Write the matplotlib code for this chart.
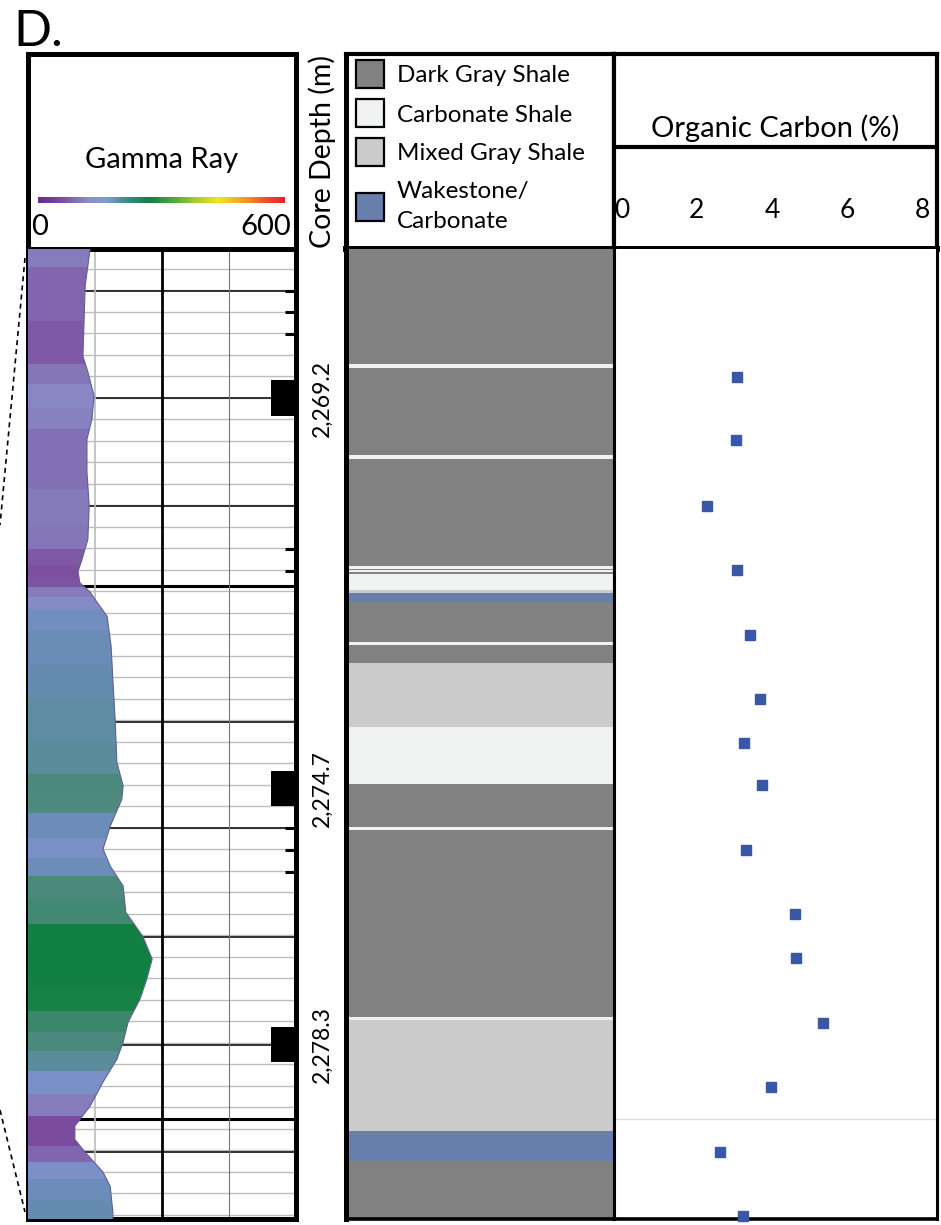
import numpy as np
import matplotlib
matplotlib.use("Agg")
import matplotlib.pyplot as plt
from matplotlib.colors import LinearSegmentedColormap, Normalize
from matplotlib.transforms import blended_transform_factory
from matplotlib.lines import Line2D

plt.rcParams['font.family'] = ['Lato', 'DejaVu Sans']

# ---- data ----
# gamma ray log (depth in m, API)
gr_depth = [2267.10, 2267.62, 2268.61, 2268.83, 2269.17, 2269.50, 2269.78, 2270.24,
            2270.72, 2271.19, 2271.47, 2271.64, 2271.80, 2271.93, 2272.07, 2272.27,
            2272.69, 2273.16, 2273.72, 2274.33, 2274.66, 2274.85, 2275.23, 2275.55,
            2275.79, 2276.07, 2276.44, 2276.78, 2277.10, 2277.38, 2277.66, 2277.99,
            2278.27, 2278.51, 2278.83, 2279.17, 2279.45, 2279.64, 2279.82, 2280.10,
            2280.30, 2280.66, 2280.76]
gr_value = [139, 128, 123, 134, 148, 143, 132, 132,
            137, 134, 121, 112, 116, 139, 154, 177,
            186, 190, 195, 199, 213, 210, 184, 168,
            184, 213, 219, 257, 278, 266, 251, 224,
            213, 199, 168, 139, 105, 105, 128, 168,
            184, 190, 190]

# lithology intervals
lith_top = [2267.10, 2268.72, 2268.78, 2270.00, 2270.06, 2271.56, 2271.60, 2271.62,
            2271.65, 2271.67, 2271.90, 2271.94, 2272.07, 2272.64, 2272.68, 2272.93,
            2273.83, 2274.64, 2275.24, 2275.28, 2277.92, 2277.96, 2279.52, 2279.95]
lith_base = lith_top[1:] + [2280.76]
lith_type = ["dark", "carb", "dark", "carb", "dark", "carb", "dark", "carb",
             "dark", "carb", "mixed", "wake", "dark", "carb", "dark", "mixed",
             "carb", "dark", "carb", "dark", "carb", "mixed", "wake", "dark"]

# organic carbon samples
toc_depth = [2268.90, 2269.79, 2270.72, 2271.62, 2272.54, 2273.44, 2274.06, 2274.65,
             2275.57, 2276.47, 2277.09, 2278.00, 2278.90, 2279.81, 2280.72]
toc_value = [3.07, 3.04, 2.27, 3.07, 3.41, 3.68, 3.25, 3.73,
             3.31, 4.61, 4.64, 5.36, 3.97, 2.61, 3.23]

core_depths = [2269.2, 2274.7, 2278.3]
core_labels = ["2,269.2", "2,274.7", "2,278.3"]
toc_ticks = [0, 2, 4, 6, 8]

legend_keys = ["dark", "carb", "mixed", "wake"]
legend_lines = [["Dark Gray Shale"], ["Carbonate Shale"], ["Mixed Gray Shale"],
                ["Wakestone/", "Carbonate"]]
lith_colors = {"dark": "#818181", "carb": "#F0F1F1", "mixed": "#CBCBCB", "wake": "#687FAD"}

depth_top, depth_base = 2267.10, 2280.76

W, H = 941, 1225
fig = plt.figure(figsize=(W / 100, H / 100), dpi=100)


def add_ax(x0, y0, x1, y1):
    return fig.add_axes([x0 / W, 1 - y1 / H, (x1 - x0) / W, (y1 - y0) / H])


def clean(ax):
    ax.set_xticks([])
    ax.set_yticks([])


# ---------------- gamma ray header ----------------
axh = add_ax(28, 54, 296, 249)
clean(axh)
axh.set_xlim(28, 296)
axh.set_ylim(249, 54)
for s in axh.spines.values():
    s.set_linewidth(3.6)
axh.text(162, 168, "Gamma Ray", ha="center", va="baseline", fontsize=21)
axh.text(31, 235, "0", ha="left", va="baseline", fontsize=21)
axh.text(291, 235, "600", ha="right", va="baseline", fontsize=21)

bar_cmap = LinearSegmentedColormap.from_list("gr_bar", [
    (0.00, "#6A2A8E"), (0.10, "#7A4FA3"), (0.20, "#8F8CC6"), (0.28, "#7F9CCF"),
    (0.35, "#3F8E92"), (0.45, "#128043"), (0.55, "#4FA93A"), (0.64, "#A9CC2E"),
    (0.73, "#F3E41F"), (0.84, "#F39A25"), (0.93, "#EE4C2A"), (1.00, "#E8222B")])
axcb = add_ax(38, 197, 285, 203)
axcb.imshow(np.linspace(0, 1, 256)[None, :], aspect="auto", cmap=bar_cmap)
axcb.axis("off")

# ---------------- gamma ray log ----------------
ax = add_ax(28, 249, 296, 1219)
clean(ax)
ax.set_xlim(0, 600)
ax.set_ylim(depth_base, depth_top)
for s in ax.spines.values():
    s.set_linewidth(3.6)

grid_depths = np.arange(2267.38, depth_base, 0.3028)
ax.hlines(grid_depths, 0, 600, color="#BDBDBD", lw=1.0, zorder=1)
major = [2267.69, 2269.20, 2270.72, 2273.76, 2275.25, 2276.79, 2278.31, 2279.82]
ax.hlines(major, 0, 600, color="#222222", lw=1.3, zorder=1)
ax.hlines([2271.85, 2279.35], 0, 600, color="black", lw=2.2, zorder=1)
ax.vlines(150, depth_top, depth_base, color="#BBBBBB", lw=1.2, zorder=1)
ax.vlines(300, depth_top, depth_base, color="black", lw=2.0, zorder=1)
ax.vlines(450, depth_top, depth_base, color="#777777", lw=0.8, zorder=1)
tick_marks = [2267.69, 2267.99, 2268.30, 2271.33, 2271.64, 2275.25, 2275.57, 2275.87]
ax.hlines(tick_marks, 575, 600, color="black", lw=2.2, zorder=2)

fill_cmap = LinearSegmentedColormap.from_list("gr_fill", [
    (0.00, "#7A4A9E"), (0.10, "#7E58A6"), (0.17, "#8478B8"), (0.25, "#8A88C4"),
    (0.35, "#7C90C8"), (0.45, "#6C8CBA"), (0.52, "#5E8CA2"), (0.60, "#4E8A80"),
    (0.75, "#2A8458"), (0.85, "#138042"), (1.00, "#0F803F")])
norm = Normalize(105, 280)
poly = ax.fill_betweenx(gr_depth, 0, gr_value, color="none", lw=0)
clip = poly.get_paths()[0]
d = np.array(gr_depth)
edges = np.concatenate([[d[0]], (d[1:] + d[:-1]) / 2, [d[-1]]])
bars = ax.barh((edges[1:] + edges[:-1]) / 2, 600, height=np.diff(edges), left=0,
               color=[fill_cmap(norm(v)) for v in gr_value], lw=0, zorder=3)
for b in bars:
    b.set_clip_path(clip, ax.transData)
ax.plot(gr_value, gr_depth, color="#5E6190", lw=0.8, zorder=4)

# core sample boxes and depth labels
ax.barh(core_depths, 55, left=545, height=0.5, color="black", zorder=5, clip_on=False)
tr = blended_transform_factory(ax.transAxes, ax.transData)
for dep, lab in zip(core_depths, core_labels):
    ax.text(1.097, dep, lab, transform=tr, rotation=90, ha="center", va="center", fontsize=16.5)

fig.text(322 / W, 1 - 152 / H, "Core Depth (m)", rotation=90, ha="center", va="center", fontsize=20.5)
fig.text(13 / W, 1 - 46 / H, "D.", ha="left", va="baseline", fontsize=36)

# dashed connector lines
for (x0, y0, x1, y1) in [(25, 258, 0, 525), (0, 1110, 25, 1212)]:
    fig.add_artist(Line2D([x0 / W, x1 / W], [1 - y0 / H, 1 - y1 / H], color="black",
                          lw=1.2, ls=(0, (3, 2.5))))

# ---------------- legend header ----------------
axl = add_ax(346, 54, 614, 249)
clean(axl)
axl.set_xlim(346, 614)
axl.set_ylim(249, 54)
axl.spines["left"].set_linewidth(3.6)
axl.spines["top"].set_linewidth(3.0)
axl.spines["bottom"].set_linewidth(4.3)
axl.spines["right"].set_linewidth(3.0)
key_y = [74, 113, 152, 207]
text_y = [[82], [122], [160], [198, 228]]
for k, lines, ky, tys in zip(legend_keys, legend_lines, key_y, text_y):
    axl.add_patch(plt.Rectangle((356, ky - 14), 28, 28, facecolor=lith_colors[k],
                                edgecolor="black", lw=1.6))
    for line, ty in zip(lines, tys):
        axl.text(397, ty, line, ha="left", va="baseline", fontsize=17.5)

# ---------------- organic carbon header ----------------
axt = add_ax(614, 54, 937, 249)
axt.set_yticks([])
axt.set_xticks([])
axt.set_xlim(-0.21, 8.4)
axt.set_ylim(249, 54)
axt.spines["left"].set_linewidth(3.0)
axt.spines["top"].set_linewidth(3.0)
axt.spines["bottom"].set_linewidth(4.3)
axt.spines["right"].set_linewidth(3.0)
axt.axhline(147, color="black", lw=3.0)
axt.text(0.5, 137, "Organic Carbon (%)", transform=blended_transform_factory(axt.transAxes, axt.transData),
         ha="center", va="baseline", fontsize=21)
for t in toc_ticks:
    axt.text(t, 218, str(t), ha="center", va="baseline", fontsize=19)

# ---------------- lithology column ----------------
axc = add_ax(346, 249, 614, 1219)
clean(axc)
axc.set_xlim(0, 1)
axc.set_ylim(depth_base, depth_top)
axc.barh([(a + b) / 2 for a, b in zip(lith_top, lith_base)], 1,
         height=[b - a for a, b in zip(lith_top, lith_base)], left=0,
         color=[lith_colors[t] for t in lith_type], lw=0)
axc.spines["top"].set_visible(False)
axc.spines["left"].set_linewidth(3.6)
axc.spines["right"].set_linewidth(2.2)
axc.spines["bottom"].set_linewidth(2.6)

# ---------------- organic carbon plot ----------------
axo = add_ax(614, 249, 937, 1219)
clean(axo)
axo.set_xlim(-0.21, 8.4)
axo.set_ylim(depth_base, depth_top)
axo.spines["top"].set_visible(False)
axo.spines["left"].set_linewidth(2.2)
axo.spines["right"].set_linewidth(2.2)
axo.spines["bottom"].set_linewidth(2.6)
axo.axhline(2279.35, color="#DDDDDD", lw=1.0)
axo.plot(toc_value, toc_depth, "s", color="#3A56A8", markersize=7, clip_on=False, zorder=5)

fig.savefig("out.png", dpi=100)
